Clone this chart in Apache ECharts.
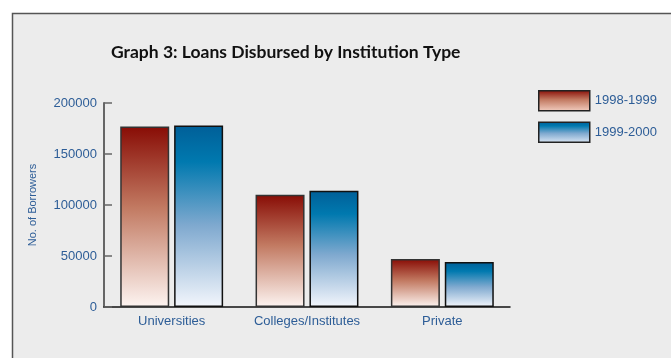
<!DOCTYPE html>
<html>
<head>
<meta charset="utf-8">
<script src="https://cdn.jsdelivr.net/npm/echarts@6/dist/echarts.min.js"></script>
<style>
  html, body { margin: 0; padding: 0; background: #fff; }
  #chart { width: 671px; height: 358px; }
</style>
</head>
<body>
<div id="chart"></div>
<script>
var categories = ['Universities', 'Colleges/Institutes', 'Private'];
var seriesNames = ['1998-1999', '1999-2000'];
var values9899 = [177000, 110000, 47000];
var values9900 = [178000, 114000, 44000];

var labelBlue = '#2d5d97';

function redFill(fade) {
  return new echarts.graphic.LinearGradient(0, 0, 0, 1, [
    { offset: 0, color: '#880c05' },
    { offset: 0.45, color: '#c27a62' },
    { offset: 1, color: fade }
  ]);
}
function blueFill(fade) {
  return new echarts.graphic.LinearGradient(0, 0, 0, 1, [
    { offset: 0, color: '#005f98' },
    { offset: 0.2, color: '#0079af' },
    { offset: 0.55, color: '#7fa9cf' },
    { offset: 1, color: fade }
  ]);
}

var chart = echarts.init(document.getElementById('chart'));
chart.setOption({
  animation: false,
  backgroundColor: '#ffffff',
  graphic: [{
    type: 'rect',
    z: -10,
    shape: { x: 12.5, y: 13.5, width: 700, height: 400 },
    style: { fill: '#ececec', stroke: '#555', lineWidth: 1.5 }
  }],
  title: {
    text: 'Graph 3: Loans Disbursed by Institution Type',
    left: 111,
    top: 43,
    padding: 0,
    textStyle: {
      color: '#111',
      fontFamily: 'Lato',
      fontWeight: 'bold',
      fontSize: 17.5
    }
  },
  legend: {
    orient: 'vertical',
    left: 538,
    top: 90,
    padding: 0,
    icon: 'rect',
    itemWidth: 51,
    itemHeight: 20,
    itemGap: 10,
    textStyle: { color: labelBlue, fontFamily: 'Liberation Sans', fontSize: 13 },
    data: [
      { name: seriesNames[0], itemStyle: { color: redFill('#f3cfc2'), borderColor: '#222', borderWidth: 1.5 } },
      { name: seriesNames[1], itemStyle: { color: blueFill('#dde8f5'), borderColor: '#222', borderWidth: 1.5 } }
    ]
  },
  grid: { left: 104, right: 161, top: 103, bottom: 51 },
  xAxis: {
    type: 'category',
    data: categories,
    axisLine: { lineStyle: { color: '#111', width: 1.5 } },
    axisTick: { inside: true, length: 5, lineStyle: { color: '#111', width: 1.5 } },
    axisLabel: { interval: 0, color: labelBlue, fontFamily: 'Liberation Sans', fontSize: 13, margin: 8 }
  },
  yAxis: {
    type: 'value',
    min: 0,
    max: 200000,
    interval: 50000,
    name: 'No. of Borrowers',
    nameLocation: 'middle',
    nameRotate: 90,
    nameGap: 66,
    nameTextStyle: { color: labelBlue, fontFamily: 'Liberation Sans', fontSize: 11 },
    axisLine: { show: true, lineStyle: { color: '#666', width: 2 } },
    axisTick: { show: true, inside: true, length: 8, lineStyle: { color: '#666', width: 1.5 } },
    splitLine: { show: false },
    axisLabel: {
      color: labelBlue, fontFamily: 'Liberation Sans', fontSize: 13, margin: 7,
      formatter: function (v) { return String(v); }
    }
  },
  series: [
    {
      name: seriesNames[0],
      type: 'bar',
      data: values9899,
      barWidth: 49,
      barGap: '10%',
      itemStyle: { color: redFill('#fdf4f1'), borderColor: '#333', borderWidth: 1.5 }
    },
    {
      name: seriesNames[1],
      type: 'bar',
      data: values9900,
      barWidth: 49,
      barGap: '10%',
      itemStyle: { color: blueFill('#f3f6fc'), borderColor: '#111', borderWidth: 1.5 }
    }
  ]
});
</script>
</body>
</html>
